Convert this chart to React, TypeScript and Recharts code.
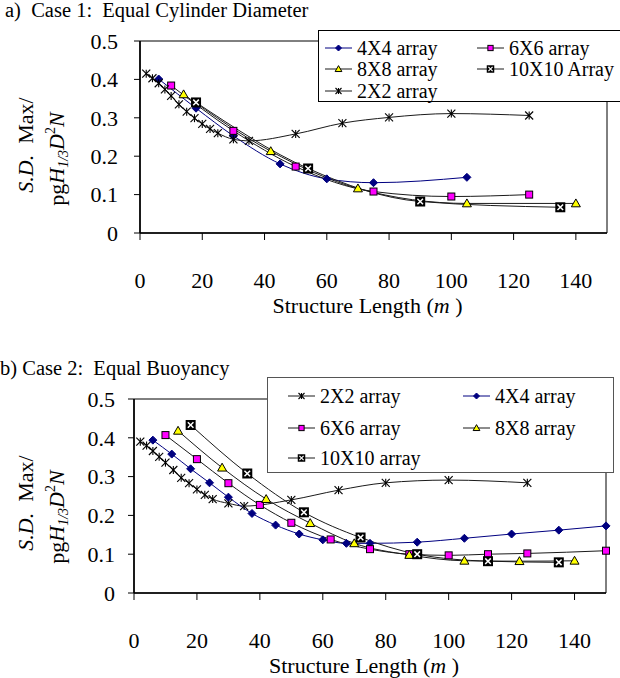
import { Label, Line, LineChart, ReferenceArea, XAxis, YAxis } from 'recharts'

const FONT = '"Liberation Serif", "Times New Roman", serif'

// x axis / y axis ticks (both panels)
const xTicks = [0, 20, 40, 60, 80, 100, 120, 140]
const yTicks = [0, 0.1, 0.2, 0.3, 0.4, 0.5]

// a) Case 1: Equal Cylinder Diameter
const c1x2x2 = [2, 4, 6, 8, 10, 12.5, 15, 17.5, 20, 22.5, 25, 30, 35, 50, 65, 80, 100, 125]
const c1y2x2 = [0.415, 0.403, 0.39, 0.374, 0.357, 0.335, 0.316, 0.299, 0.284, 0.271, 0.26, 0.244, 0.24, 0.258, 0.286, 0.301, 0.311, 0.306]
const c1x4x4 = [6, 18, 30, 45, 60, 75, 105]
const c1y4x4 = [0.401, 0.325, 0.253, 0.18, 0.141, 0.131, 0.145]
const c1x6x6 = [10, 30, 50, 75, 100, 125]
const c1y6x6 = [0.384, 0.266, 0.173, 0.108, 0.095, 0.1]
const c1x8x8 = [14, 42, 70, 105, 140]
const c1y8x8 = [0.361, 0.213, 0.116, 0.077, 0.077]
const c1x10 = [18, 54, 90, 135]
const c1y10 = [0.34, 0.168, 0.082, 0.067]

// b) Case 2: Equal Buoyancy
const c2x2x2 = [2, 4, 6, 8, 10, 12.5, 15, 17.5, 20, 22.5, 25, 30, 35, 50, 65, 80, 100, 125]
const c2y2x2 = [0.39, 0.38, 0.366, 0.351, 0.336, 0.317, 0.297, 0.283, 0.267, 0.253, 0.242, 0.231, 0.224, 0.24, 0.265, 0.284, 0.291, 0.284]
const c2x4x4 = [6, 12, 18, 24, 30, 37.5, 45, 52.5, 60, 67.5, 75, 90, 105, 120, 135, 150]
const c2y4x4 = [0.394, 0.358, 0.32, 0.284, 0.247, 0.205, 0.175, 0.152, 0.137, 0.128, 0.128, 0.131, 0.141, 0.152, 0.162, 0.173]
const c2x6x6 = [10, 20, 30, 40, 50, 62.5, 75, 87.5, 100, 112.5, 125, 150]
const c2y6x6 = [0.407, 0.345, 0.283, 0.227, 0.181, 0.138, 0.113, 0.1, 0.097, 0.1, 0.102, 0.109]
const c2x8x8 = [14, 28, 42, 56, 70, 87.5, 105, 122.5, 140]
const c2y8x8 = [0.418, 0.323, 0.242, 0.18, 0.128, 0.098, 0.083, 0.082, 0.083]
const c2x10 = [18, 36, 54, 72, 90, 112.5, 135]
const c2y10 = [0.433, 0.308, 0.208, 0.143, 0.1, 0.082, 0.079]

type Pt = { x: number; y: number }
type Kind = 'star' | 'diamond' | 'square' | 'triangle' | 'xbox'
type Series = { name: string; kind: Kind; stroke: string; data: Pt[] }

const zip = (xs: number[], ys: number[]): Pt[] => xs.map((x, i) => ({ x, y: ys[i] }))

const NAVY = '#000080'
const LINE = '#1a1a1a'

const case1: Series[] = [
  { name: '4X4 array', kind: 'diamond', stroke: NAVY, data: zip(c1x4x4, c1y4x4) },
  { name: '6X6 array', kind: 'square', stroke: LINE, data: zip(c1x6x6, c1y6x6) },
  { name: '8X8 array', kind: 'triangle', stroke: LINE, data: zip(c1x8x8, c1y8x8) },
  { name: '10X10 Array', kind: 'xbox', stroke: LINE, data: zip(c1x10, c1y10) },
  { name: '2X2 array', kind: 'star', stroke: LINE, data: zip(c1x2x2, c1y2x2) },
]

const case2: Series[] = [
  { name: '2X2 array', kind: 'star', stroke: LINE, data: zip(c2x2x2, c2y2x2) },
  { name: '4X4 array', kind: 'diamond', stroke: NAVY, data: zip(c2x4x4, c2y4x4) },
  { name: '6X6 array', kind: 'square', stroke: LINE, data: zip(c2x6x6, c2y6x6) },
  { name: '8X8 array', kind: 'triangle', stroke: LINE, data: zip(c2x8x8, c2y8x8) },
  { name: '10X10 array', kind: 'xbox', stroke: LINE, data: zip(c2x10, c2y10) },
]

function Marker({ kind, cx, cy, s = 1 }: { kind: Kind; cx: number; cy: number; s?: number }) {
  if (cx == null || cy == null) return null
  if (kind === 'star') {
    const r = 4 * s
    return (
      <g stroke="#000" strokeWidth={1.1}>
        <line x1={cx - r} y1={cy - r} x2={cx + r} y2={cy + r} />
        <line x1={cx - r} y1={cy + r} x2={cx + r} y2={cy - r} />
        <line x1={cx} y1={cy - r} x2={cx} y2={cy + r} />
      </g>
    )
  }
  if (kind === 'diamond') {
    const r = 4 * s
    return (
      <polygon
        points={`${cx},${cy - r} ${cx + r},${cy} ${cx},${cy + r} ${cx - r},${cy}`}
        fill={NAVY}
        stroke={NAVY}
      />
    )
  }
  if (kind === 'square') {
    const r = 3.5 * s
    return <rect x={cx - r} y={cy - r} width={2 * r} height={2 * r} fill="#ff00ff" stroke="#000" strokeWidth={1} />
  }
  if (kind === 'triangle') {
    const r = 4.5 * s
    return (
      <polygon
        points={`${cx},${cy - r} ${cx + r},${cy + r * 0.75} ${cx - r},${cy + r * 0.75}`}
        fill="#ffff00"
        stroke="#000"
        strokeWidth={1}
      />
    )
  }
  const r = 5 * s
  const i = 2.2 * s
  return (
    <g>
      <rect x={cx - r} y={cy - r} width={2 * r} height={2 * r} fill="#000" />
      <line x1={cx - r + i} y1={cy - r + i} x2={cx + r - i} y2={cy + r - i} stroke="#fff" strokeWidth={1.5 * s} />
      <line x1={cx - r + i} y1={cy + r - i} x2={cx + r - i} y2={cy - r + i} stroke="#fff" strokeWidth={1.5 * s} />
    </g>
  )
}

type ChartProps = {
  series: Series[]
  left: number
  right: number
  top: number
  bottom: number
  height: number
}

function Chart({ series, left, right, top, bottom, height }: ChartProps) {
  const tickStyle = { fontSize: 22, fill: '#000', fontFamily: FONT }
  const midY = top + 100
  return (
    <LineChart
      width={620}
      height={height}
      margin={{ top, right: 620 - right, left: left - 60, bottom: height - bottom - 60 }}
    >
      <XAxis
        type="number"
        dataKey="x"
        domain={[0, 150]}
        ticks={xTicks}
        interval={0}
        height={60}
        tickSize={7}
        tickMargin={32}
        tick={tickStyle}
        axisLine={{ stroke: '#000', strokeWidth: 1.6 }}
        tickLine={{ stroke: '#000' }}
      >
        <Label
          content={() => (
            <text x={(left + right) / 2 - 6} y={bottom + 80} textAnchor="middle" fontSize={22} fontFamily={FONT} fill="#000">
              Structure Length (<tspan fontStyle="italic">m</tspan> )
            </text>
          )}
        />
      </XAxis>
      <YAxis
        type="number"
        domain={[0, 0.5]}
        ticks={yTicks}
        interval={0}
        width={60}
        tickSize={6}
        tickMargin={left === 140 ? 16 : 13}
        tick={tickStyle}
        tickFormatter={(v: number) => (v === 0 ? '0' : v.toFixed(1))}
        axisLine={{ stroke: '#000', strokeWidth: 1.6 }}
        tickLine={{ stroke: '#000' }}
      >
        <Label
          content={() => (
            <g fontFamily={FONT} fontSize={22} fill="#000">
              <text x={33} y={midY + 4} textAnchor="middle" transform={`rotate(-90 33 ${midY + 4})`} style={{ whiteSpace: 'pre' }}>
                <tspan fontStyle="italic">S.D.</tspan>
                <tspan>{'  Max/'}</tspan>
              </text>
              <text x={64} y={midY + 18} textAnchor="middle" transform={`rotate(-90 64 ${midY + 18})`}>
                <tspan>pg</tspan>
                <tspan fontStyle="italic">H</tspan>
                <tspan fontStyle="italic" fontSize={14} dy={4}>1/3</tspan>
                <tspan fontStyle="italic" dy={-4}>D</tspan>
                <tspan fontSize={14} dy={-9}>2</tspan>
                <tspan fontStyle="italic" dy={9}>N</tspan>
              </text>
            </g>
          )}
        />
      </YAxis>
      <ReferenceArea x1={0} x2={150} y1={0} y2={0.5} fill="none" fillOpacity={0} stroke="#000" strokeWidth={1} ifOverflow="visible" />
      {series.map((s) => (
        <Line
          key={s.name}
          data={s.data}
          dataKey="y"
          name={s.name}
          type="monotone"
          stroke={s.stroke}
          strokeWidth={1}
          activeDot={false}
          isAnimationActive={false}
          dot={(p: any) => <Marker key={`${s.name}-${p.index}`} kind={s.kind} cx={p.cx} cy={p.cy} />}
        />
      ))}
    </LineChart>
  )
}

type Slot = [number, number]

function LegendBox({
  series,
  slots,
  left,
  top,
  width,
  height,
  border,
}: {
  series: Series[]
  slots: Slot[]
  left: number
  top: number
  width: number
  height: number
  border: string
}) {
  return (
    <div
      style={{
        position: 'absolute',
        left,
        top,
        width,
        height,
        border: `1px solid ${border}`,
        background: '#fff',
        boxSizing: 'border-box',
      }}
    >
      {series.map((s, i) => (
        <div
          key={s.name}
          style={{
            position: 'absolute',
            left: slots[i][0] - 1,
            top: slots[i][1] - 12,
            height: 24,
            display: 'flex',
            alignItems: 'center',
            fontSize: 20,
            lineHeight: '24px',
            whiteSpace: 'pre',
          }}
        >
          <svg width={27} height={12} style={{ display: 'block' }}>
            <line x1={0} y1={6} x2={27} y2={6} stroke={s.stroke} strokeWidth={1} />
            <Marker kind={s.kind} cx={13.5} cy={6} s={0.75} />
          </svg>
          <span style={{ marginLeft: 5 }}>{s.name}</span>
        </div>
      ))}
    </div>
  )
}

export default function App() {
  return (
    <div
      style={{
        position: 'absolute',
        left: 0,
        top: 0,
        width: 620,
        height: 678,
        overflow: 'hidden',
        background: '#fff',
        fontFamily: FONT,
        color: '#000',
      }}
    >
      <div style={{ position: 'absolute', left: 0, top: 0 }}>
        <Chart series={case1} left={140} right={607} top={41} bottom={233} height={330} />
      </div>
      <div style={{ position: 'absolute', left: 0, top: 358 }}>
        <Chart series={case2} left={134} right={606} top={41} bottom={235} height={320} />
      </div>
      <div style={{ position: 'absolute', left: 5, top: 0, fontSize: 20.5, lineHeight: '20px', whiteSpace: 'pre' }}>
        a)  Case 1:  Equal Cylinder Diameter
      </div>
      <div style={{ position: 'absolute', left: 0, top: 358, fontSize: 20.5, lineHeight: '20px', whiteSpace: 'pre' }}>
        b) Case 2:  Equal Buoyancy
      </div>
      <LegendBox
        series={case1}
        slots={[
          [7, 17],
          [159, 17],
          [7, 38],
          [159, 38],
          [7, 60],
        ]}
        left={318}
        top={30}
        width={310}
        height={72}
        border="#000"
      />
      <LegendBox
        series={case2}
        slots={[
          [21, 18],
          [196, 18],
          [21, 50],
          [196, 50],
          [21, 80],
        ]}
        left={267}
        top={377}
        width={347}
        height={96}
        border="#555"
      />
    </div>
  )
}
